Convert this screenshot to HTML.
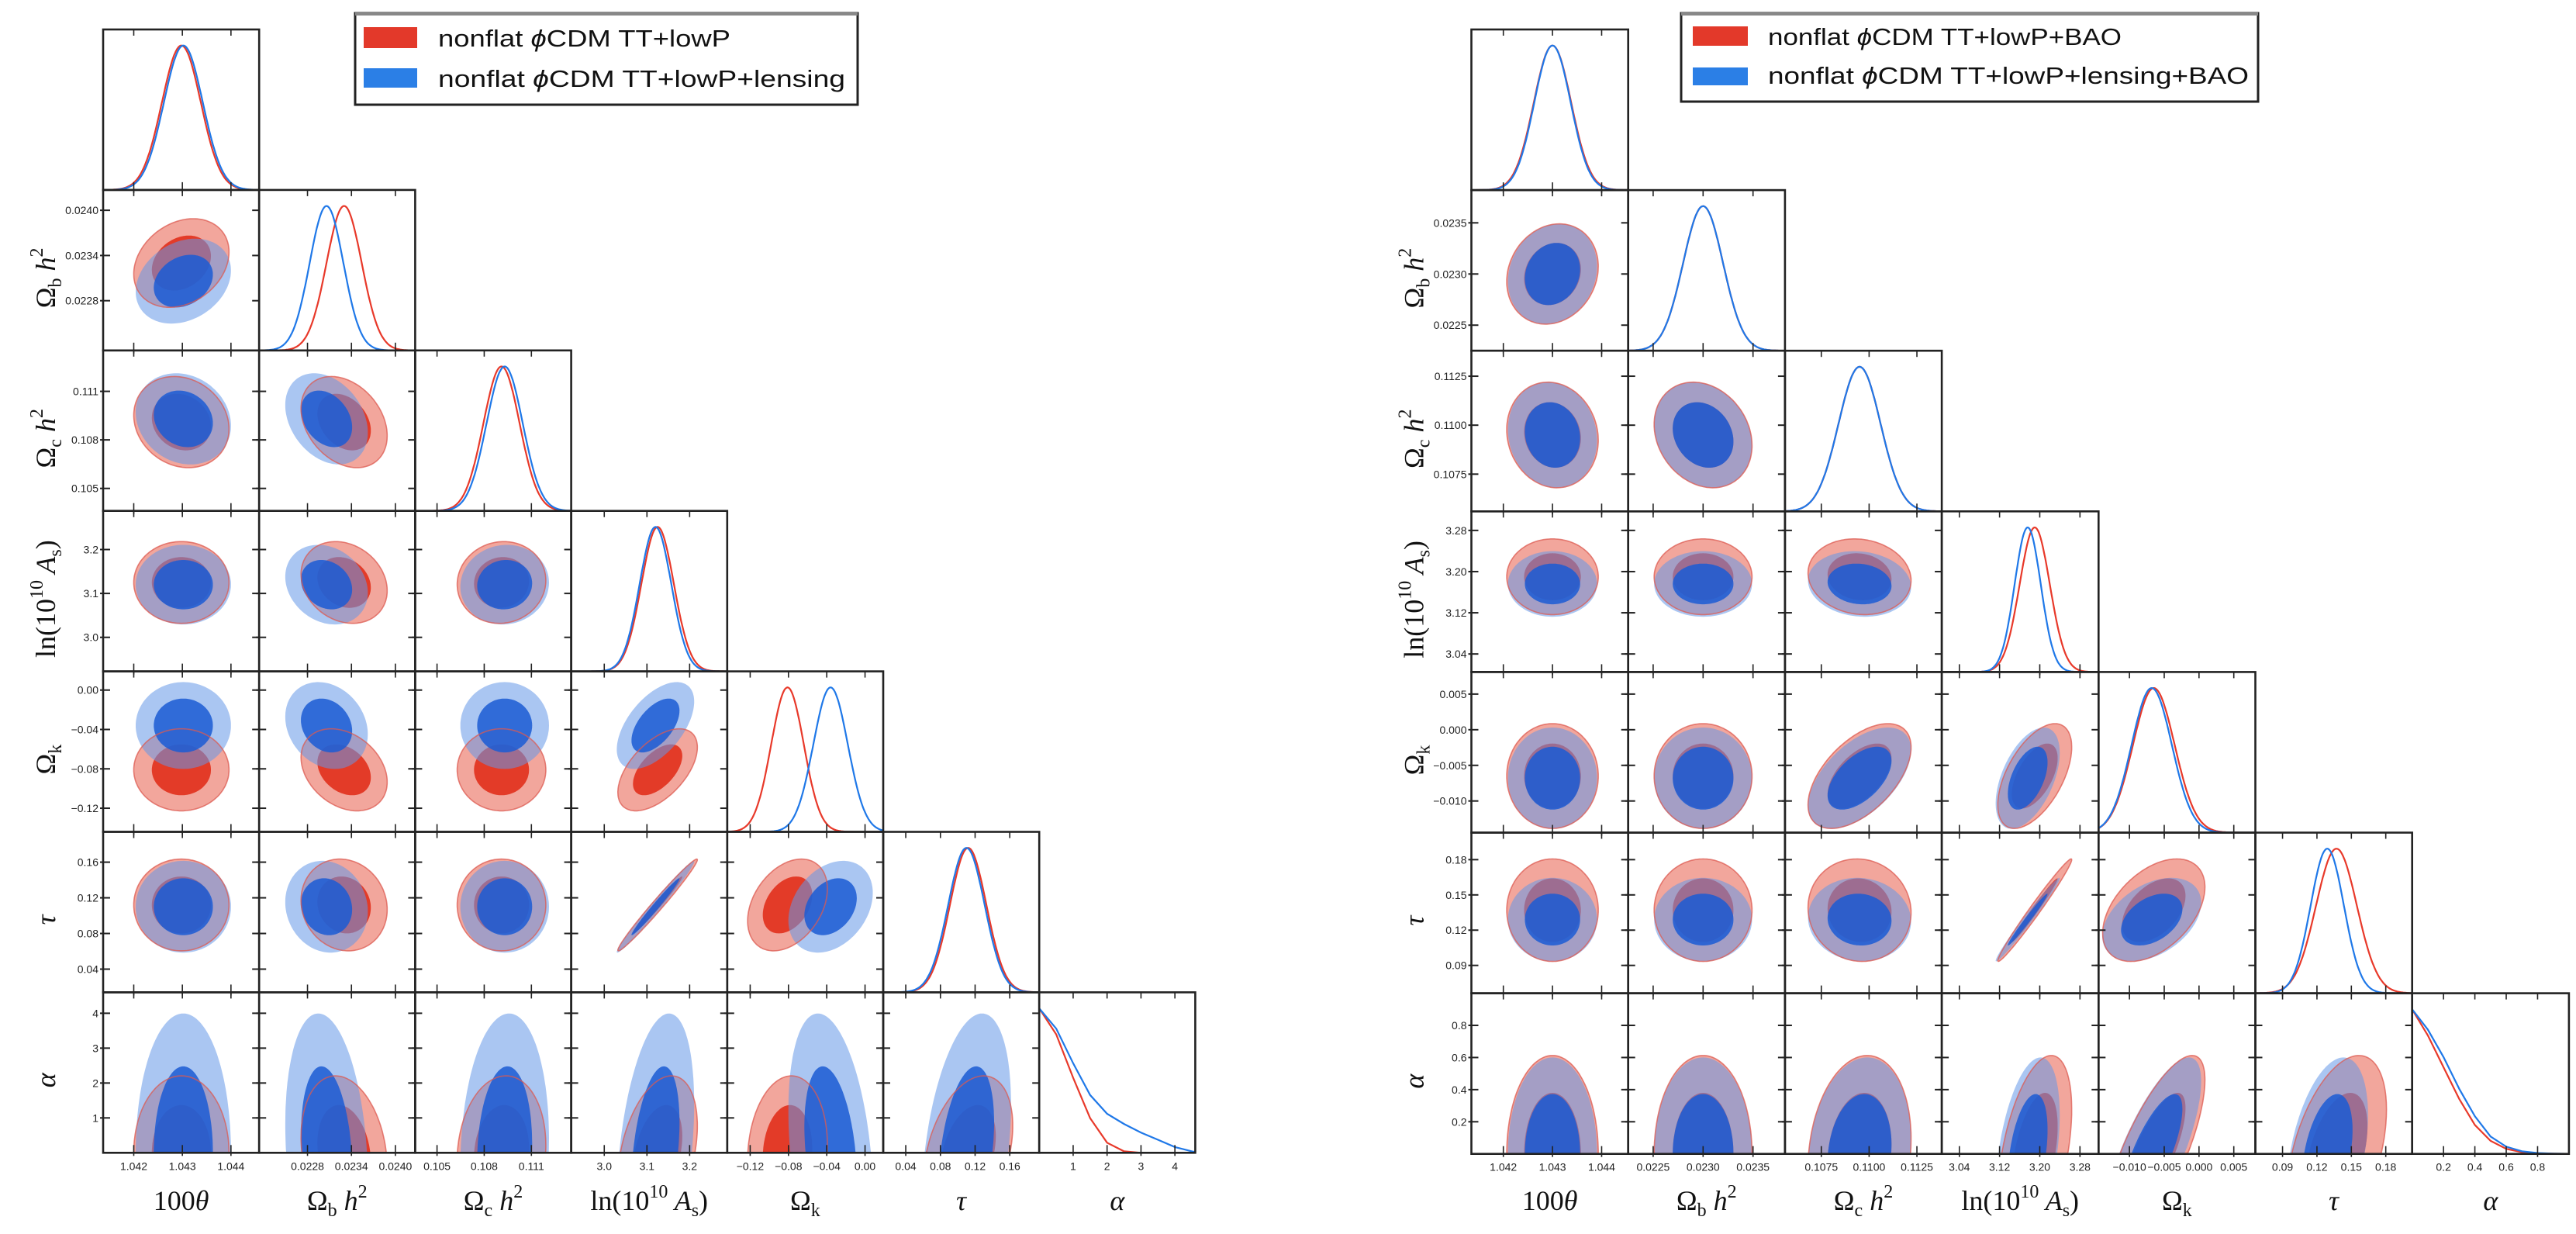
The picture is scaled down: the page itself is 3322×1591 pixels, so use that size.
<!DOCTYPE html>
<html><head><meta charset="utf-8">
<style>
html,body{margin:0;padding:0;background:#fff;width:3322px;height:1591px;overflow:hidden;}
svg{display:block;}
.tk{font-family:"Liberation Sans Narrow","Liberation Sans",sans-serif;font-size:14px;fill:#222;}
.ax{font-family:"Liberation Serif",serif;font-size:36px;fill:#111;}
.lg{font-family:"Liberation Sans",sans-serif;font-size:31px;fill:#111;}
</style></head>
<body>
<svg id="fig" width="3322" height="1591" viewBox="0 0 3322 1591" xmlns="http://www.w3.org/2000/svg">
<defs id="defs"></defs>
<g id="grid-left"></g>
<g id="grid-right"></g>
<g>
  <rect x="458" y="17" width="648" height="118" fill="#fff" stroke="#222" stroke-width="3"/>
  <line x1="458" y1="18" x2="1106" y2="18" stroke="#888" stroke-width="4"/>
  <rect x="469" y="35" width="69" height="27" fill="#e3392a"/>
  <text class="lg" x="565" y="60" textLength="377" lengthAdjust="spacingAndGlyphs">nonflat <tspan font-style="italic">ϕ</tspan>CDM TT+lowP</text>
  <rect x="469" y="88" width="69" height="25" fill="#2b7fe6"/>
  <text class="lg" x="565" y="112" textLength="525" lengthAdjust="spacingAndGlyphs">nonflat <tspan font-style="italic">ϕ</tspan>CDM TT+lowP+lensing</text>
</g>
<g>
  <rect x="2168" y="17" width="744" height="114" fill="#fff" stroke="#222" stroke-width="3"/>
  <line x1="2168" y1="18" x2="2912" y2="18" stroke="#888" stroke-width="4"/>
  <rect x="2183" y="34" width="71" height="25" fill="#e3392a"/>
  <text class="lg" x="2280" y="58" textLength="456" lengthAdjust="spacingAndGlyphs">nonflat <tspan font-style="italic">ϕ</tspan>CDM TT+lowP+BAO</text>
  <rect x="2183" y="87" width="71" height="23" fill="#2b7fe6"/>
  <text class="lg" x="2280" y="108" textLength="620" lengthAdjust="spacingAndGlyphs">nonflat <tspan font-style="italic">ϕ</tspan>CDM TT+lowP+lensing+BAO</text>
</g>
</svg>
<script>
// ---------- LEFT GRID DATA ----------
const L_lo = [1.04137, 0.02214, 0.10361, 2.9225, -0.144, 0.014, 0];
const L_hi = [1.04458, 0.02427, 0.11353, 3.288, 0.019, 0.194, 4.6];
const L_ticks = [[1.042,1.043,1.044],[0.0228,0.0234,0.0240],[0.105,0.108,0.111],[3.0,3.1,3.2],[-0.12,-0.08,-0.04,0.00],[0.04,0.08,0.12,0.16],[1,2,3,4]];
const L_tickLabels = [["1.042","1.043","1.044"],["0.0228","0.0234","0.0240"],["0.105","0.108","0.111"],["3.0","3.1","3.2"],["−0.12","−0.08","−0.04","0.00"],["0.04","0.08","0.12","0.16"],["1","2","3","4"]];
const L_meanRed = [1.04298, 0.02330, 0.1091, 3.125, -0.081, 0.112, 0];
const L_sigRed = [0.00040, 0.00024, 0.00115, 0.038, 0.017, 0.021, 0.9];
const L_meanBlue = [1.04302, 0.02306, 0.1093, 3.12, -0.036, 0.110, 0];
const L_sigBlue = [0.00040, 0.00023, 0.00115, 0.037, 0.018, 0.021, 1.63];
const L_corrRed = [[],[0.25],[-0.15,-0.3],[0,-0.2,0.05],[0,-0.3,0,0.55],[0,-0.1,0,0.985,0.35],[0,-0.2,0.1,0.35,0.1,0.35]];
const L_corrBlue = [[],[0.25],[-0.15,-0.3],[0,-0.2,0.05],[0,-0.2,0,0.55],[0,-0.1,0,0.985,0.3],[0,-0.2,0.1,0.35,-0.3,0.35]];
const L_alphaGrid = [0,0.5,1,1.5,2,2.5,3,3.5,4,4.5,4.6];
const L_alphaRed = [1.0,0.82,0.52,0.24,0.07,0.01,0,0,0,0,0];
const L_alphaBlue = [1.0,0.86,0.62,0.40,0.27,0.20,0.14,0.09,0.04,0.01,0.005];

// ---------- RIGHT GRID DATA ----------
const R_lo = [1.04135, 0.02225, 0.1056, 3.005, -0.01444, 0.0663, 0];
const R_hi = [1.04454, 0.02382, 0.1138, 3.317, 0.0081, 0.203, 1.0];
const R_ticks = [[1.042,1.043,1.044],[0.0225,0.0230,0.0235],[0.1075,0.1100,0.1125],[3.04,3.12,3.20,3.28],[-0.010,-0.005,0.000,0.005],[0.09,0.12,0.15,0.18],[0.2,0.4,0.6,0.8]];
const R_tickLabels = [["1.042","1.043","1.044"],["0.0225","0.0230","0.0235"],["0.1075","0.1100","0.1125"],["3.04","3.12","3.20","3.28"],["−0.010","−0.005","0.000","0.005"],["0.09","0.12","0.15","0.18"],["0.2","0.4","0.6","0.8"]];
const R_meanRed = [1.0430, 0.02300, 0.1095, 3.19, -0.0065, 0.137, 0];
const R_sigRed = [0.00038, 0.00020, 0.0011, 0.030, 0.0030, 0.0178, 0.25];
const R_meanBlue = [1.0430, 0.02300, 0.1095, 3.176, -0.0068, 0.129, 0];
const R_sigBlue = [0.00037, 0.00020, 0.0011, 0.026, 0.0029, 0.0145, 0.245];
const R_corrRed = [[],[0.15],[-0.1,-0.2],[0,0,-0.1],[0,0,0.55,0.55],[0,0,-0.05,0.985,0.45],[0,0,0.15,0.45,0.75,0.45]];
const R_corrBlue = [[],[0.15],[-0.1,-0.2],[0,0,-0.1],[0,0,0.55,0.5],[0,0,-0.05,0.985,0.4],[0,0,0.15,0.4,0.75,0.4]];
const R_alphaGrid = [0,0.1,0.2,0.3,0.4,0.5,0.6,0.7,0.8,0.9,1.0];
const R_alphaRed = [1.0,0.82,0.60,0.38,0.20,0.09,0.035,0.012,0.004,0.001,0];
const R_alphaBlue = [1.0,0.86,0.67,0.45,0.26,0.12,0.05,0.018,0.006,0.002,0];

const NS = "http://www.w3.org/2000/svg";
const AXNAMES = ["theta","ombh2","omch2","logAs","omegak","tau","alpha"];
let clipId = 0;
function mk(tag, attrs, parent){
  const e = document.createElementNS(NS, tag);
  for (const k in attrs) e.setAttribute(k, attrs[k]);
  if (parent) parent.appendChild(e);
  return e;
}
function axisLabel(parent, i, x, y, rotate){
  const t = mk("text", {class:"ax", x:x, y:y, "text-anchor":"middle"}, parent);
  
  
  if (rotate) t.setAttribute("transform", "rotate(-90 " + x + " " + y + ")");
  const parts = [
    [["100",""],["θ","i"]],
    [["Ω",""],["b","sub"],[" h","i"],["2","sup"]],
    [["Ω",""],["c","sub"],[" h","i"],["2","sup"]],
    [["ln(10",""],["10","sup"],[" A","i"],["s","sub"],[")",""]],
    [["Ω",""],["k","sub"]],
    [["τ","i"]],
    [["α","i"]]
  ][i];
  parts.forEach(p=>{
    const s = mk("tspan", {}, t);
    s.textContent = p[0];
    if (p[1]==="i") s.setAttribute("font-style","italic");
    if (p[1]==="sub" || p[1]==="sup") s.setAttribute("font-size","24");
  });
  let dy=0; [...t.childNodes].forEach((s,k)=>{ const p=parts[k][1]; const v = p==="sub"?8:(p==="sup"?-16:0); s.setAttribute("dy", v-dy); dy=v; });
}
// ellipse as polygon clamped to panel rectangle
function ellipse(g, box, cx, cy, sx, sy, rho, k, fill, stroke){
  const a=sx*sx, c=sy*sy, b=-rho*sx*sy;
  const h=Math.sqrt(((a-c)/2)**2+b*b);
  const l1=(a+c)/2+h, l2=Math.max((a+c)/2-h,0.01);
  const th=0.5*Math.atan2(2*b, a-c);
  const r1=k*Math.sqrt(l1), r2=k*Math.sqrt(l2);
  const pts=[];
  for (let t=0;t<160;t++){
    const u=t/160*2*Math.PI;
    let x=cx + r1*Math.cos(u)*Math.cos(th) - r2*Math.sin(u)*Math.sin(th);
    let y=cy + r1*Math.cos(u)*Math.sin(th) + r2*Math.sin(u)*Math.cos(th);
    x=Math.min(Math.max(x,box[0]),box[2]); y=Math.min(Math.max(y,box[1]),box[3]);
    pts.push(x.toFixed(1)+","+y.toFixed(1));
  }
  const e = mk("polygon", {points:pts.join(" "), fill:fill}, g);
  if (stroke){ e.setAttribute("stroke", stroke); e.setAttribute("stroke-width","1.6"); }
  return e;
}
function drawGrid(root, side, D){
  const n=7;
  const defs=document.getElementById("defs");
  const sxp = (j,v)=> D.x0 + j*D.pw + (v-D.lo[j])/(D.hi[j]-D.lo[j])*D.pw;
  const syp = (i,v)=> D.y0 + (i+1)*D.ph - (v-D.lo[i])/(D.hi[i]-D.lo[i])*D.ph;
  for (let i=0;i<n;i++){
    for (let j=0;j<=i;j++){
      const px=D.x0+j*D.pw, py=D.y0+i*D.ph;
      const box=[px,py,px+D.pw,py+D.ph];
      const g = mk("g", {}, root);
      
      
      const cid = "clip"+(clipId++);
      const cp = mk("clipPath", {id:cid}, defs);
      mk("rect", {x:px, y:py, width:D.pw, height:D.ph}, cp);
      const inner = mk("g", {"clip-path":"url(#"+cid+")"}, g);
      if (i===j){
        const base = py + D.ph, H = D.ph*0.9;
        const curves = [["red", "#e8392a"],["blue","#1f78e8"]];
        curves.forEach(([s,col])=>{
          let pts=[];
          if (j===6){
            const ag = D.alphaGrid, av = s==="red"?D.alphaRed:D.alphaBlue;
            for (let k=0;k<ag.length;k++) pts.push([sxp(j,ag[k]), base - av[k]*H]);
          } else {
            const m = s==="red"?D.meanRed[j]:D.meanBlue[j];
            const sg = s==="red"?D.sigRed[j]:D.sigBlue[j];
            for (let k=0;k<=200;k++){
              const v = D.lo[j] + (D.hi[j]-D.lo[j])*k/200;
              pts.push([sxp(j,v), base - Math.exp(-0.5*((v-m)/sg)**2)*H]);
            }
          }
          const p = mk("polyline", {points: pts.map(q=>q[0].toFixed(1)+","+q[1].toFixed(1)).join(" "), fill:"none", stroke:col, "stroke-width":"2.2"}, inner);
          
          
        });
      } else {
        ["red","blue"].forEach(s=>{
          const mx = s==="red"?D.meanRed[j]:D.meanBlue[j];
          const my = s==="red"?D.meanRed[i]:D.meanBlue[i];
          const sgx = s==="red"?D.sigRed[j]:D.sigBlue[j];
          const sgy = s==="red"?D.sigRed[i]:D.sigBlue[i];
          const rho = (s==="red"?D.corrRed:D.corrBlue)[i][j];
          const cx=sxp(j,mx), cy=syp(i,my);
          const spx = sgx/(D.hi[j]-D.lo[j])*D.pw, spy = sgy/(D.hi[i]-D.lo[i])*D.ph;
          const o = ellipse(inner,box,cx,cy,spx,spy,rho,2.45, s==="red"?"#f2a69c":"rgba(100,152,232,0.55)", null);
          
          
          const q = ellipse(inner,box,cx,cy,spx,spy,rho,1.52, s==="red"?"#e33b28":"rgba(28,92,212,0.86)", null);
          
          
          if (s==="blue"){
            const sr = ellipse(inner, box, sxp(j,D.meanRed[j]), syp(i,D.meanRed[i]), D.sigRed[j]/(D.hi[j]-D.lo[j])*D.pw, D.sigRed[i]/(D.hi[i]-D.lo[i])*D.ph, D.corrRed[i][j], 2.45, "none", "rgba(220,90,80,0.75)");
            
            
          }
        });
        D.ticks[i].forEach(t=>{
          const y=syp(i,t);
          mk("line",{x1:px-4,y1:y,x2:px+9,y2:y,stroke:"#222","stroke-width":"2"},g);
          mk("line",{x1:px+D.pw-9,y1:y,x2:px+D.pw,y2:y,stroke:"#222","stroke-width":"2"},g);
        });
      }
      D.ticks[j].forEach(t=>{
        const x=sxp(j,t);
        mk("line",{x1:x,y1:py+D.ph-10,x2:x,y2:py+D.ph+4,stroke:"#222","stroke-width":"1.6"},g);
        mk("line",{x1:x,y1:py,x2:x,y2:py+8,stroke:"#222","stroke-width":"1.6"},g);
      });
      const fr = mk("rect",{x:px,y:py,width:D.pw,height:D.ph,fill:"none",stroke:"#222","stroke-width":"2.6"},g);
      
      
    }
  }
  for (let j=0;j<n;j++){
    D.ticks[j].forEach((t,k)=>{
      const tx = mk("text",{class:"tk",x:sxp(j,t),y:D.y0+n*D.ph+22,"text-anchor":"middle"},root);
      tx.textContent = D.tickLabels[j][k];
      
      
    });
    axisLabel(root, j, D.x0+(j+0.5)*D.pw, 1560, false);
  }
  for (let i=1;i<n;i++){
    D.ticks[i].forEach((t,k)=>{
      const tx = mk("text",{class:"tk",x:D.x0-6,y:syp(i,t)+5,"text-anchor":"end"},root);
      tx.textContent = D.tickLabels[i][k];
      
      
    });
    axisLabel(root, i, D.x0-62, D.y0+(i+0.5)*D.ph+10, true);
  }
}
drawGrid(document.getElementById("grid-left"), "left", {
  x0:133, pw:201.2, y0:38, ph:206.9, lo:L_lo, hi:L_hi, ticks:L_ticks, tickLabels:L_tickLabels,
  meanRed:L_meanRed, sigRed:L_sigRed, meanBlue:L_meanBlue, sigBlue:L_sigBlue,
  corrRed:L_corrRed, corrBlue:L_corrBlue, alphaGrid:L_alphaGrid, alphaRed:L_alphaRed, alphaBlue:L_alphaBlue});
drawGrid(document.getElementById("grid-right"), "right", {
  x0:1897.5, pw:202.2, y0:38, ph:207.1, lo:R_lo, hi:R_hi, ticks:R_ticks, tickLabels:R_tickLabels,
  meanRed:R_meanRed, sigRed:R_sigRed, meanBlue:R_meanBlue, sigBlue:R_sigBlue,
  corrRed:R_corrRed, corrBlue:R_corrBlue, alphaGrid:R_alphaGrid, alphaRed:R_alphaRed, alphaBlue:R_alphaBlue});
</script>
</body></html>
